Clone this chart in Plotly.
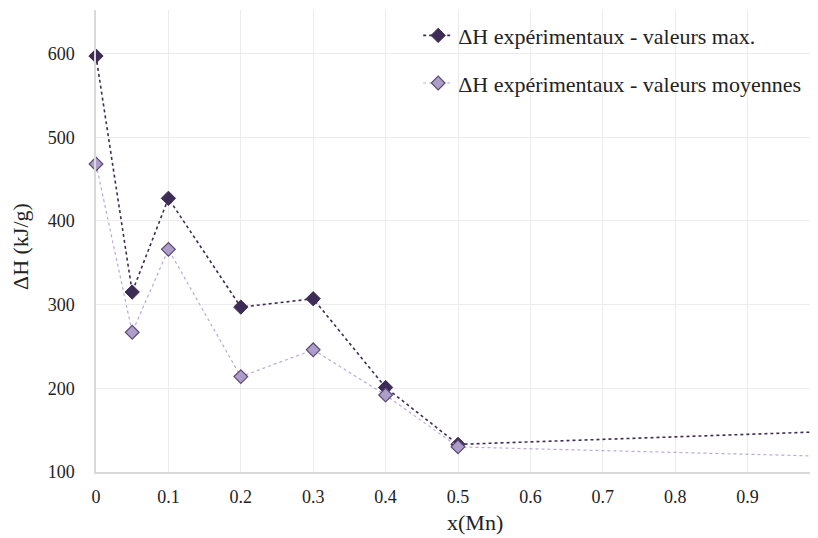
import plotly.graph_objects as go

x_mn = [0, 0.05, 0.1, 0.2, 0.3, 0.4, 0.5, 1.0]
dh_max = [597, 315, 427, 297, 307, 201, 133, 148]
dh_moy = [468, 267, 366, 214, 246, 192, 130, 119]
name_max = "ΔH expérimentaux - valeurs max."
name_moy = "ΔH expérimentaux - valeurs moyennes"
x_ticks = [0, 0.1, 0.2, 0.3, 0.4, 0.5, 0.6, 0.7, 0.8, 0.9, 1]
x_ticktext = ["0", "0.1", "0.2", "0.3", "0.4", "0.5", "0.6", "0.7", "0.8", "0.9", "1"]
y_ticks = [100, 200, 300, 400, 500, 600]

fig = go.Figure()
fig.add_trace(go.Scatter(
    x=x_mn, y=dh_max, name=name_max, mode="lines+markers", legendgroup="a",
    line=dict(color="#3d2c55", width=1.6, dash="dot"),
    marker=dict(symbol="diamond", size=11, color="#3d2c55",
                line=dict(color="#3d2c55", width=1)),
    cliponaxis=False,
))
fig.add_trace(go.Scatter(
    x=x_mn, y=dh_moy, name=name_moy, mode="lines+markers", legendgroup="b",
    line=dict(color="#b9a9d9", width=1.2, dash="dot"),
    marker=dict(symbol="diamond", size=10.5, color="#ad9dc9",
                line=dict(color="#5c4a73", width=1.2)),
    cliponaxis=False,
))

ff = "Liberation Serif, serif"
fig.update_layout(
    width=818, height=538,
    margin=dict(l=88, r=6, t=2, b=74, autoexpand=False),
    paper_bgcolor="white", plot_bgcolor="white",
    font=dict(family=ff, color="#222222", size=18),
    showlegend=True,
    legend=dict(x=0.445, y=0.99, xanchor="left", yanchor="top",
                font=dict(size=22, family=ff, color="#222222"),
                tracegroupgap=16, traceorder="grouped",
                bgcolor="rgba(0,0,0,0)"),
    xaxis=dict(range=[0, 1], tickvals=x_ticks, ticktext=x_ticktext,
               showgrid=True, gridcolor="#ececec", gridwidth=1,
               showline=True, linecolor="#d9d9d9", linewidth=1.5,
               zeroline=False, ticks="", ticklabelstandoff=8, automargin=False,
               tickfont=dict(size=18, family=ff)),
    yaxis=dict(range=[100, 652], tickvals=y_ticks,
               showgrid=True, gridcolor="#ececec", gridwidth=1,
               showline=True, linecolor="#d9d9d9", linewidth=1.5,
               zeroline=False, ticks="", ticklabelstandoff=16, automargin=False,
               tickfont=dict(size=18, family=ff)),
    annotations=[
        dict(text="x(Mn)", xref="paper", yref="paper", x=0.5235, y=0,
             xanchor="center", yanchor="middle", yshift=-50, showarrow=False,
             font=dict(size=22, family=ff, color="#222222")),
        dict(text="ΔH (kJ/g)", xref="paper", yref="paper", x=0, y=0.487,
             xanchor="center", yanchor="middle", xshift=-76, textangle=-90,
             showarrow=False, font=dict(size=22, family=ff, color="#222222")),
    ],
)

fig.write_html("out.html")
